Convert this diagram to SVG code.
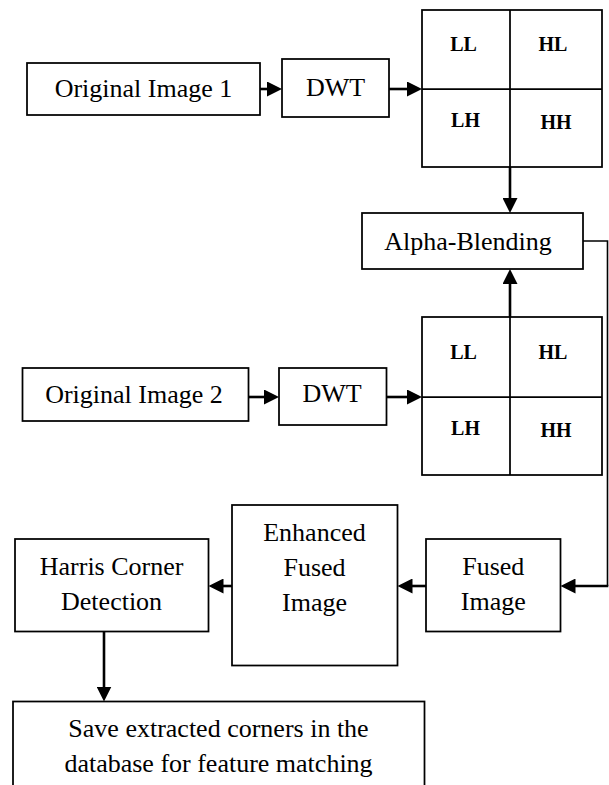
<svg xmlns="http://www.w3.org/2000/svg" width="609" height="785" viewBox="0 0 609 785">
<style>
.box{fill:#fff;stroke:#000;stroke-width:1.75}
.grid{fill:none;stroke:#000;stroke-width:1.75}
.t{font-family:"Liberation Serif","Times New Roman",serif;font-size:26px;fill:#000;text-anchor:middle}
.g{font-family:"Liberation Serif","Times New Roman",serif;font-size:20px;font-weight:bold;fill:#000;text-anchor:middle}
.a{fill:none;stroke:#000;stroke-width:2.6}
.thin{fill:none;stroke:#000;stroke-width:1.6}
</style>
<defs>
<marker id="ah" markerUnits="userSpaceOnUse" markerWidth="15" markerHeight="15" viewBox="0 0 15 15" refX="7" refY="7.5" orient="auto">
<path d="M0,0 L15,7.5 L0,15 z" fill="#000"/>
</marker>
</defs>
<rect width="609" height="785" fill="#fff"/>
<g id="connectors">
<line class="a" x1="260" y1="89" x2="274" y2="89" marker-end="url(#ah)"/>
<line class="a" x1="389" y1="89" x2="414" y2="89" marker-end="url(#ah)"/>
<line class="a" x1="510" y1="167" x2="510" y2="205" marker-end="url(#ah)"/>
<line class="a" x1="510" y1="317" x2="510" y2="277" marker-end="url(#ah)"/>
<line class="a" x1="248.5" y1="397" x2="271" y2="397" marker-end="url(#ah)"/>
<line class="a" x1="386.5" y1="397" x2="414" y2="397" marker-end="url(#ah)"/>
<polyline class="thin" points="583,241 607.5,241 607.5,586"/>
<line class="a" x1="608.3" y1="586" x2="568.5" y2="586" marker-end="url(#ah)"/>
<line class="a" x1="426" y1="586" x2="405.5" y2="586" marker-end="url(#ah)"/>
<line class="a" x1="232" y1="586" x2="216.5" y2="586" marker-end="url(#ah)"/>
<line class="a" x1="104" y1="631.5" x2="104" y2="693.5" marker-end="url(#ah)"/>
</g>
<g id="original1">
<rect class="box" x="27" y="63" width="233" height="52"/>
<text class="t" x="143.5" y="97">Original Image 1</text>
</g>
<g id="dwt1">
<rect class="box" x="282" y="59" width="107" height="58"/>
<text class="t" x="335.5" y="96">DWT</text>
</g>
<g id="grid1">
<rect class="grid" x="422" y="10" width="180" height="157"/>
<line class="grid" x1="510" y1="10" x2="510" y2="167"/>
<line class="grid" x1="422" y1="89" x2="602" y2="89"/>
<text class="g" x="463.5" y="51">LL</text>
<text class="g" x="553" y="51">HL</text>
<text class="g" x="465.5" y="127">LH</text>
<text class="g" x="556" y="129">HH</text>
</g>
<g id="alpha">
<rect class="box" x="362" y="213" width="221" height="56"/>
<text class="t" x="468" y="250">Alpha-Blending</text>
</g>
<g id="original2">
<rect class="box" x="22.5" y="368" width="226" height="53"/>
<text class="t" x="134" y="403">Original Image 2</text>
</g>
<g id="dwt2">
<rect class="box" x="279" y="368" width="107.5" height="57"/>
<text class="t" x="332" y="402">DWT</text>
</g>
<g id="grid2">
<rect class="grid" x="422" y="317" width="180" height="158"/>
<line class="grid" x1="510" y1="317" x2="510" y2="475"/>
<line class="grid" x1="422" y1="397" x2="602" y2="397"/>
<text class="g" x="463.5" y="359">LL</text>
<text class="g" x="553" y="359">HL</text>
<text class="g" x="465.5" y="435">LH</text>
<text class="g" x="556" y="437">HH</text>
</g>
<g id="harris">
<rect class="box" x="15" y="539" width="193.5" height="92.5"/>
<text class="t" x="111.6" y="575">Harris Corner</text>
<text class="t" x="111.6" y="610">Detection</text>
</g>
<g id="enhanced">
<rect class="box" x="232" y="505" width="165.5" height="160.5"/>
<text class="t" x="314.5" y="541">Enhanced</text>
<text class="t" x="314.5" y="576">Fused</text>
<text class="t" x="314.5" y="610.5">Image</text>
</g>
<g id="fused">
<rect class="box" x="426" y="539" width="134.5" height="92.5"/>
<text class="t" x="493.3" y="575">Fused</text>
<text class="t" x="493.3" y="609.5">Image</text>
</g>
<g id="save">
<rect class="box" x="13" y="701.5" width="411.5" height="100"/>
<text class="t" x="218.5" y="737">Save extracted corners in the</text>
<text class="t" x="218.5" y="772">database for feature matching</text>
</g>
</svg>
